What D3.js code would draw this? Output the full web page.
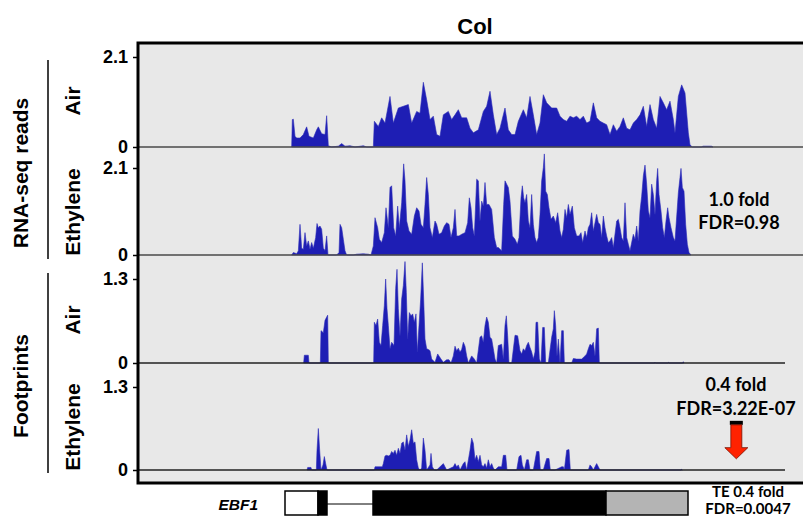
<!DOCTYPE html>
<html>
<head>
<meta charset="utf-8">
<script src="https://cdn.jsdelivr.net/npm/d3@7"></script>
<style>
  body { margin: 0; background: #fff; }
  svg { display: block; }
</style>
</head>
<body>
<div id="chart"></div>
<script>
// coverage profiles: [position, value], position in relative genome units
const rnaAir = [
  [461,0],[463,0.64],[466,0.65],[471,0.25],[476,0.21],[486,0.21],[496,0.29],[506,0.47],[513,0.25],[526,0.21],
  [536,0.40],[541,0.47],[551,0.31],[561,0.29],[566,0.73],[571,0.03],[581,0],[601,0.02],[611,0.08],[621,0.02],
  [636,0.03],[651,0],[676,0.03],[686,0],[706,0],[709,0.60],[721,0.48],[731,0.68],[741,0.56],[756,1.18],
  [766,0.56],[781,0.91],[796,0.95],[811,0.99],[821,0.56],[836,0.83],[846,0.79],[856,1.51],[866,1.10],[876,0.64],
  [886,0.72],[896,0.29],[906,0.25],[916,0.75],[931,0.83],[941,0.64],[951,0.75],[961,0.87],[971,0.68],[986,0.68],
  [996,0.44],[1006,0.33],[1021,0.40],[1036,0.83],[1046,0.95],[1056,1.30],[1066,0.75],[1076,0.29],[1086,0.44],[1101,0.91],
  [1111,0.40],[1121,0.29],[1131,0.29],[1141,0.60],[1156,0.87],[1166,0.68],[1176,1.18],[1186,0.75],[1196,0.29],[1206,0.56],
  [1216,1.22],[1226,1.03],[1241,0.91],[1256,0.91],[1266,0.72],[1276,0.64],[1286,0.60],[1296,0.72],[1306,0.68],[1316,0.72],
  [1326,0.64],[1336,0.72],[1346,0.56],[1356,0.60],[1366,1.03],[1376,0.68],[1386,0.60],[1396,0.56],[1406,0.52],[1416,0.29],
  [1426,0.52],[1436,0.37],[1446,0.48],[1456,0.68],[1466,0.44],[1476,0.40],[1486,0.56],[1496,0.64],[1506,0.75],[1516,0.95],
  [1526,0.48],[1536,0.99],[1546,0.64],[1556,0.44],[1566,1.18],[1576,1.03],[1586,0.87],[1596,1.07],[1606,0.64],[1611,0.33],
  [1621,1.18],[1631,1.45],[1641,1.26],[1651,0.33],[1656,0.05],[1663,0],[1690,0],[1695,0.02],[1720,0.02],[1725,0]
]

const rnaEth = [
  [461,0],[466,0.06],[476,0.03],[481,0.10],[486,0.74],[491,0.16],[496,0.14],[501,0.54],[506,0.22],[511,0.34],
  [516,0.14],[521,0.30],[526,0.16],[533,0.42],[537,0.76],[541,0.66],[546,0.70],[551,0.62],[556,0.16],[561,0.11],
  [566,0.46],[570,0],[596,0],[603,0.06],[606,0.74],[611,0.66],[616,0.38],[621,0.10],[626,0],[646,0],
  [656,0.02],[676,0.03],[691,0.02],[699,0],
  [706,0.22],[711,0.90],[719,0.66],[724,0.38],[731,0.30],[739,0.54],[744,1.14],[751,0.66],[756,1.63],[761,1.67],
  [767,0.66],[773,0.46],[779,1.18],[784,0.66],[791,1.26],[797,2.20],[801,1.79],[806,0.82],[813,0.58],[821,0.50],
  [829,0.94],[836,1.14],[843,1.06],[849,0.74],[856,0.66],[861,1.22],[866,1.87],[871,1.46],[876,0.66],[883,0.42],
  [891,0.82],[896,0.74],[903,0.50],[911,0.54],[919,0.70],[926,0.78],[933,0.74],[939,0.42],[946,0.66],[951,1.10],
  [956,0.46],[963,0.46],[971,0.50],[981,0.54],[989,0.78],[994,1.38],[999,1.14],[1004,0.66],[1009,0.46],[1016,1.83],
  [1021,1.79],[1026,0.82],[1031,1.30],[1036,1.18],[1041,1.75],[1046,1.22],[1053,1.22],[1061,1.10],[1069,0.42],[1076,0.18],
  [1081,0.18],[1091,0.10],[1097,1.22],[1101,1.79],[1106,1.71],[1111,1.63],[1116,1.30],[1123,0.46],[1131,0.38],[1138,0.26],
  [1143,0.42],[1149,1.38],[1153,1.67],[1157,1.38],[1161,1.26],[1166,1.46],[1171,0.82],[1176,0.66],[1181,1.46],[1186,0.74],
  [1191,0.42],[1196,0.30],[1201,0.42],[1206,0.98],[1211,1.79],[1216,2.11],[1219,2.44],[1223,1.54],[1228,1.46],[1233,1.14],
  [1239,0.86],[1246,0.94],[1253,0.78],[1259,1.02],[1266,0.58],[1271,0.42],[1276,0.62],[1281,1.10],[1286,0.90],[1291,1.22],
  [1296,0.98],[1303,1.18],[1309,0.66],[1316,0.46],[1323,0.46],[1329,0.54],[1334,0.30],[1341,0.58],[1346,0.42],[1351,0.66],
  [1356,0.74],[1361,1.02],[1366,0.58],[1371,0.78],[1376,0.98],[1381,0.78],[1386,0.74],[1391,0.42],[1396,0.94],[1401,0.66],
  [1406,0.46],[1411,0.30],[1416,0.34],[1421,0.42],[1426,0.18],[1436,0.82],[1441,0.86],[1446,0.66],[1451,0.42],[1456,0.34],
  [1461,1.26],[1466,0.42],[1471,0.26],[1476,0.10],[1486,0.50],[1491,0.38],[1496,0.70],[1501,0.34],[1506,1.06],[1511,1.42],
  [1516,1.91],[1521,2.17],[1526,1.71],[1531,1.06],[1536,0.90],[1541,1.71],[1546,1.46],[1551,0.98],[1556,1.79],[1559,2.09],
  [1563,1.46],[1569,1.06],[1574,0.66],[1579,0.42],[1584,0.82],[1589,1.14],[1593,0.90],[1599,0.66],[1606,0.42],[1611,0.34],
  [1621,1.50],[1626,1.87],[1629,2.09],[1633,1.63],[1638,1.54],[1643,0.74],[1648,0.26],[1653,0.06],[1659,0]
]

const fpAir = [
  [497,0],[499,0.12],[511,0.12],[513,0],[547,0],[549,0.50],[556,0.47],[561,0.66],[566,0.71],[569,0.74],[571,0],
  [707,0],[709,0.63],[714,0.58],[719,0.68],[724,0.32],[729,0.27],[734,0.58],[739,0.89],[743,1.30],[747,0.84],
  [751,0.58],[756,0.22],[761,0.32],[768,0.27],[773,1.15],[777,1.45],[781,0.84],[786,0.42],[791,0.99],[796,1.20],
  [801,1.57],[805,1.09],[809,0.37],[814,0.78],[819,0.73],[824,0.76],[829,0.63],[834,0.76],[838,0.17],[843,0.58],
  [848,0.99],[853,1.55],[857,0.99],[861,0.37],[866,0.22],[871,0.21],[876,0.19],[881,0.06],[891,0.01],[899,0.14],
  [904,0.10],[909,0.06],[916,0.01],[926,0.05],[933,0.05],[939,0],[946,0.11],[951,0.26],[956,0.19],[961,0.23],
  [966,0.17],[971,0.21],[976,0.32],[981,0.26],[986,0.11],[991,0],[1001,0.11],[1009,0.06],[1016,0],[1026,0.40],
  [1031,0.42],[1036,0.32],[1041,0.58],[1046,0.71],[1051,0.63],[1056,0.40],[1061,0.37],[1066,0.22],[1071,0.06],[1076,0],
  [1081,0.27],[1086,0.28],[1091,0.29],[1096,0.06],[1101,0.58],[1105,0.73],[1109,0.42],[1113,0],[1121,0],[1131,0.43],
  [1139,0.42],[1146,0.19],[1151,0.14],[1156,0.22],[1161,0.19],[1166,0.27],[1171,0.32],[1176,0.24],[1181,0.17],[1186,0.06],
  [1191,0.17],[1194,0.63],[1199,0.63],[1204,0.06],[1209,0],[1214,0.55],[1219,0.55],[1223,0],[1231,0],[1241,0.40],
  [1246,0.53],[1249,0.81],[1253,0.58],[1257,0.11],[1261,0.37],[1266,0],[1271,0.50],[1276,0.50],[1279,0],[1301,0],
  [1306,0.07],[1316,0.06],[1326,0.06],[1331,0.06],[1341,0.11],[1346,0.14],[1351,0.22],[1356,0.29],[1361,0.27],[1366,0.32],
  [1371,0.11],[1376,0.53],[1381,0.54],[1384,0],[1549,0],[1551,0.01],[1553,0],[1589,0],[1591,0.01],[1593,0],
  [1634,0],[1636,0.02],[1638,0]
]

const fpEth = [
  [507,0],[509,0.04],[519,0.04],[521,0],[535,0],[537,0.31],[541,0.65],[545,0.31],[549,0],[555,0.08],
  [559,0.21],[563,0.10],[567,0],[709,0],[711,0.05],[733,0.05],[736,0.10],[741,0.22],[746,0.23],[751,0.22],
  [756,0.23],[761,0.29],[766,0.26],[771,0.31],[776,0.23],[781,0.34],[786,0.26],[791,0.42],[796,0.44],[801,0.31],
  [806,0.55],[811,0.37],[816,0.47],[821,0.63],[826,0.42],[831,0.44],[836,0.16],[841,0.03],[846,0],[851,0.03],
  [856,0.50],[861,0.31],[866,0],[876,0.08],[879,0.26],[883,0.05],[889,0],[896,0],[916,0.10],[921,0.05],
  [926,0],[946,0.05],[951,0.10],[956,0.05],[961,0.08],[966,0],[976,0.10],[981,0.13],[986,0],[996,0.31],
  [1001,0.50],[1006,0.42],[1011,0.16],[1016,0.23],[1021,0.13],[1026,0.23],[1031,0.08],[1036,0.05],[1041,0.10],[1046,0.03],
  [1051,0.16],[1056,0.05],[1061,0.10],[1066,0.03],[1071,0],[1081,0.05],[1091,0.05],[1096,0.23],[1103,0.23],[1107,0],
  [1136,0],[1143,0.21],[1149,0.23],[1153,0.08],[1159,0],[1166,0.16],[1171,0.16],[1176,0],[1186,0],[1196,0.29],
  [1203,0.29],[1207,0],[1216,0],[1226,0.18],[1233,0.18],[1237,0],[1251,0],[1271,0.05],[1276,0.05],[1279,0],
  [1286,0.31],[1293,0.32],[1297,0],[1351,0],[1356,0.08],[1361,0.05],[1366,0],[1371,0.05],[1376,0.10],[1381,0.05],
  [1386,0],[1629,0],[1631,0.01],[1633,0]
]

const trackNames = ['Air', 'Ethylene', 'Air', 'Ethylene']
const trackMax = [2.1, 2.1, 1.3, 1.3]
const groupNames = ['RNA-seq reads', 'Footprints']

// EBF1 gene model
const geneName = 'EBF1'
const exons = [
  { start: 441, end: 540, type: 'utr5' },
  { start: 540, end: 567, type: 'cds' },
  { start: 705, end: 1404, type: 'cds' },
  { start: 1404, end: 1650, type: 'utr3' }
]
const geneSpan = [567, 705]

const foldRna = ['1.0 fold', 'FDR=0.98']
const foldFp = ['0.4 fold', 'FDR=3.22E-07']
const foldTe = ['TE 0.4 fold', 'FDR=0.0047']

const width = 803
const height = 517
const frameLeft = 138
const frameTop = 43
const frameBottom = 483
// pixel layout of each track: [top tick y, baseline y]
const trackLayout = [[57, 147], [168, 255], [279, 363], [387, 470]]

const xScale = d3.scaleLinear().domain([0, 1995]).range([frameLeft, width])

const svg = d3.select('#chart').append('svg')
    .attr('width', width)
    .attr('height', height)
    .style('font-family', 'Liberation Sans, Arial, sans-serif')

svg.append('rect')
    .attr('x', frameLeft)
    .attr('y', frameTop)
    .attr('width', width - frameLeft)
    .attr('height', frameBottom - frameTop)
    .attr('fill', '#e8e8e8')

const datasets = [rnaAir, rnaEth, fpAir, fpEth]
const nameY = [101, 212, 320, 427]

datasets.forEach(function(data, i) {
    const yScale = d3.scaleLinear()
        .domain([0, trackMax[i]])
        .range([trackLayout[i][1], trackLayout[i][0]])

    const area = d3.area()
        .x(function(d) { return xScale(d[0]) })
        .y0(yScale(0))
        .y1(function(d) { return yScale(d[1]) })

    svg.append('path')
        .datum(data)
        .attr('fill', '#1e1eb4')
        .attr('stroke', '#2a2ab8')
        .attr('stroke-width', 0.6)
        .attr('d', area)

    // baseline
    svg.append('line')
        .attr('x1', frameLeft)
        .attr('x2', i < 2 ? width : 785)
        .attr('y1', yScale(0))
        .attr('y2', yScale(0))
        .attr('stroke', i < 2 ? '#4a4a4a' : '#222')
        .attr('stroke-width', 1.5)

    const axis = svg.append('g')
        .attr('transform', 'translate(' + frameLeft + ',0)')
        .call(d3.axisLeft(yScale)
            .tickValues([0, trackMax[i]])
            .tickFormat(d3.format('~g'))
            .tickSize(5)
            .tickPadding(5))
    axis.select('.domain').remove()
    axis.selectAll('line').attr('stroke', '#000').attr('stroke-width', 1.5)
    axis.selectAll('text')
        .attr('font-size', 18)
        .attr('font-weight', 'bold')
        .attr('font-family', 'Liberation Sans, Arial, sans-serif')
        .attr('fill', '#000')

    // track name
    svg.append('text')
        .attr('transform', 'translate(80,' + nameY[i] + ') rotate(-90)')
        .attr('text-anchor', 'middle')
        .attr('font-size', 21)
        .attr('font-weight', 'bold')
        .text(trackNames[i])
})

// frame
svg.append('path')
    .attr('d', 'M' + width + ',' + frameTop + 'H' + frameLeft + 'V' + frameBottom + 'H' + width)
    .attr('fill', 'none')
    .attr('stroke', '#000')
    .attr('stroke-width', 3)

// title
svg.append('text')
    .attr('x', 475)
    .attr('y', 34)
    .attr('text-anchor', 'middle')
    .attr('font-size', 22)
    .attr('font-weight', 'bold')
    .text('Col')

// group labels with brackets
const groupSpans = [[60, 259, 173], [273, 473, 386]]
groupNames.forEach(function(name, i) {
    svg.append('line')
        .attr('x1', 48).attr('x2', 48)
        .attr('y1', groupSpans[i][0]).attr('y2', groupSpans[i][1])
        .attr('stroke', '#000')
        .attr('stroke-width', 1.5)
    svg.append('text')
        .attr('transform', 'translate(28,' + groupSpans[i][2] + ') rotate(-90)')
        .attr('text-anchor', 'middle')
        .attr('font-size', 21)
        .attr('font-weight', 'bold')
        .text(name)
})

// fold change annotations
const noteFont = 'Lato, Calibri, sans-serif'
function note(lines, x, ys, size) {
    lines.forEach(function(t, k) {
        svg.append('text')
            .attr('x', x)
            .attr('y', ys[k])
            .attr('text-anchor', 'middle')
            .attr('font-family', noteFont)
            .attr('font-size', size)
            .attr('font-weight', 'bold')
            .text(t)
    })
}
note(foldRna, 739, [206, 229], 18)
note(foldFp, 736, [391, 415], 18)
note(foldTe, 748, [497, 514], 15)

// red arrow on footprint ethylene track
const yFp = d3.scaleLinear().domain([0, 1.3]).range([470, 387])
const ax = xScale(1795)
svg.append('rect')
    .attr('x', ax - 6.5).attr('y', yFp(0.77))
    .attr('width', 13).attr('height', 4)
    .attr('fill', '#000')
svg.append('path')
    .attr('d', 'M' + (ax - 5.5) + ',' + yFp(0.707) +
        'V' + yFp(0.35) + 'H' + (ax - 11.5) + 'L' + ax + ',' + yFp(0.175) +
        'L' + (ax + 11.5) + ',' + yFp(0.35) + 'H' + (ax + 5.5) + 'V' + yFp(0.707) + 'Z')
    .attr('fill', '#ff2200')
    .attr('stroke', '#7a1000')
    .attr('stroke-width', 0.8)

// gene model
const geneTop = 491
const geneH = 24
svg.append('line')
    .attr('x1', xScale(geneSpan[0])).attr('x2', xScale(geneSpan[1]))
    .attr('y1', 504).attr('y2', 504)
    .attr('stroke', '#000')
    .attr('stroke-width', 1)
const exonFill = { utr5: '#fff', cds: '#000', utr3: '#b4b4b4' }
svg.selectAll('rect.exon')
    .data(exons)
    .enter().append('rect')
    .attr('class', 'exon')
    .attr('x', function(d) { return xScale(d.start) })
    .attr('y', geneTop)
    .attr('width', function(d) { return xScale(d.end) - xScale(d.start) })
    .attr('height', geneH)
    .attr('fill', function(d) { return exonFill[d.type] })
    .attr('stroke', '#000')
    .attr('stroke-width', 1.5)
svg.append('text')
    .attr('x', 258)
    .attr('y', 510)
    .attr('text-anchor', 'end')
    .attr('font-size', 15.5)
    .attr('font-weight', 'bold')
    .attr('font-style', 'italic')
    .text(geneName)
</script>
</body>
</html>
